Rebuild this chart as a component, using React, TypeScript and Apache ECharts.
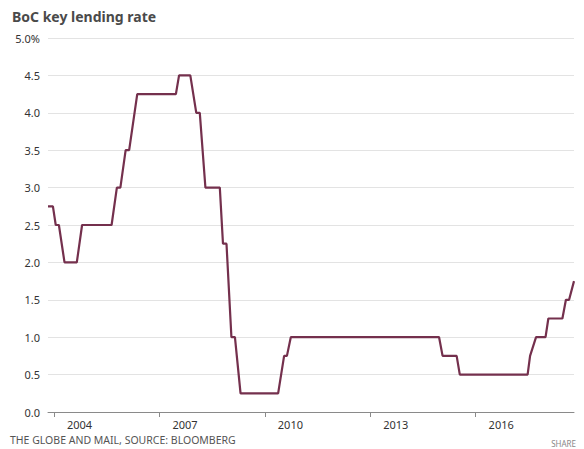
import React, { useEffect, useRef } from "react";
import * as echarts from "echarts";

// Vertices of the rate line (decimal year, % rate)
const years = [
  2003.83, 2003.97, 2004.05, 2004.14, 2004.3, 2004.65, 2004.8, 2005.64, 2005.79, 2005.89,
  2006.04, 2006.14, 2006.37, 2007.47, 2007.56, 2007.88, 2008.05, 2008.15, 2008.31, 2008.72,
  2008.81, 2008.91, 2009.05, 2009.15, 2009.31, 2010.38, 2010.55, 2010.63, 2010.74, 2014.96,
  2015.06, 2015.46, 2015.55, 2017.48, 2017.55, 2017.72, 2017.99, 2018.07, 2018.47, 2018.57,
  2018.66, 2018.8,
];
const rates = [
  2.75, 2.75, 2.5, 2.5, 2.0, 2.0, 2.5, 2.5, 3.0, 3.0,
  3.5, 3.5, 4.25, 4.25, 4.5, 4.5, 4.0, 4.0, 3.0, 3.0,
  2.25, 2.25, 1.0, 1.0, 0.25, 0.25, 0.75, 0.75, 1.0, 1.0,
  0.75, 0.75, 0.5, 0.5, 0.75, 1.0, 1.0, 1.25, 1.25, 1.5,
  1.5, 1.75,
];
const yearTicks = [2004, 2007, 2010, 2013, 2016];

const title = "BoC key lending rate";
const source = "THE GLOBE AND MAIL, SOURCE: BLOOMBERG";
const share = "SHARE";

export default function App() {
  const ref = useRef<HTMLDivElement>(null);
  useEffect(() => {
    if (!ref.current) return;
    const chart = echarts.init(ref.current, null, { renderer: "svg" });
    const font = "'Noto Sans', 'Open Sans', sans-serif";
    chart.setOption({
      animation: false,
      backgroundColor: "#ffffff",
      title: {
        text: title,
        left: 12,
        top: 9,
        padding: 0,
        textStyle: { fontSize: 14, fontWeight: "bold", color: "#4a4a4a", fontFamily: font },
      },
      grid: { left: 48, right: 10, top: 38, bottom: 37 },
      xAxis: {
        type: "value",
        min: 2003.83,
        max: 2018.8,
        splitLine: { show: false },
        axisLine: { show: true, lineStyle: { color: "#8a8a8a", width: 1 } },
        axisTick: {
          show: true,
          customValues: yearTicks,
          length: 5,
          lineStyle: { color: "#8a8a8a" },
        },
        axisLabel: {
          customValues: yearTicks,
          formatter: (v: number) => String(Math.round(v)),
          align: "left",
          padding: [0, 0, 0, 13],
          margin: 7,
          fontSize: 11,
          color: "#333",
          fontFamily: font,
        },
      },
      yAxis: {
        type: "value",
        min: 0,
        max: 5,
        interval: 0.5,
        axisLine: { show: false },
        axisTick: { show: false },
        splitLine: { lineStyle: { color: "#e3e3e3", width: 1 } },
        axisLabel: {
          margin: 8,
          fontSize: 11,
          color: "#333",
          fontFamily: font,
          formatter: (v: number) => (v === 5 ? "5.0%" : v.toFixed(1)),
        },
      },
      series: [
        {
          type: "line",
          data: years.map((y, i) => [y, rates[i]]),
          showSymbol: false,
          lineStyle: { color: "#74304d", width: 2.2 },
          itemStyle: { color: "#74304d" },
        },
      ],
      graphic: [
        {
          type: "text",
          left: 10,
          top: 434,
          style: { text: source, fontSize: 10.5, fill: "#555", fontFamily: font },
        },
        {
          type: "text",
          right: 8,
          top: 439,
          style: { text: share, fontSize: 8, fill: "#888", fontFamily: font },
        },
      ],
    });
    return () => chart.dispose();
  }, []);
  return <div ref={ref} style={{ width: 584, height: 449, position: "absolute", left: 0, top: 0 }} />;
}
